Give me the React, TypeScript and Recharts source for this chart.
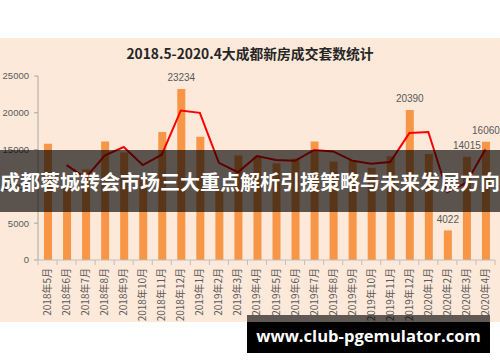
import React from 'react';
import { ComposedChart, Bar, Line, XAxis, YAxis, LabelList } from 'recharts';

const months = [
  '2018年5月', '2018年6月', '2018年7月', '2018年8月', '2018年9月', '2018年10月',
  '2018年11月', '2018年12月', '2019年1月', '2019年2月', '2019年3月', '2019年4月',
  '2019年5月', '2019年6月', '2019年7月', '2019年8月', '2019年9月', '2019年10月',
  '2019年11月', '2019年12月', '2020年1月', '2020年2月', '2020年3月', '2020年4月',
];

const salesUnits = [
  15800, 10000, 12300, 16100, 14600, 11200,
  17400, 23234, 16750, 9650, 14200, 14050,
  13150, 13800, 16100, 13400, 13600, 12550,
  14100, 20390, 14400, 4022, 14015, 16060,
];

const trendLine = [
  null, 12900, 11150, 14200, 15350, 12900,
  14300, 20317, 19992, 13200, 11925, 14125,
  13600, 13475, 14950, 14750, 13500, 13075,
  13325, 17245, 17395, 9211, 10500, 15038,
];

const yTicks = [0, 5000, 10000, 15000, 20000, 25000];

const labeledMonths = ['2018年12月', '2019年12月', '2020年2月', '2020年3月', '2020年4月'];

const titleText = '2018.5-2020.4大成都新房成交套数统计';
const bannerText = '成都蓉城转会市场三大重点解析引援策略与未来发展方向';
const siteText = 'www.club-pgemulator.com';

const data = months.map((m, i) => ({ month: m, units: salesUnits[i], trend: trendLine[i] }));

const XTick = (props: any) => {
  const { x, y, payload, index } = props;
  const off = payload && payload.offset ? payload.offset : 9.5;
  const axisY = y - 8;
  return (
    <g>
      <line x1={x - off} y1={axisY} x2={x - off} y2={axisY + 5} stroke="#bfbfbf" strokeWidth={1} />
      {index === months.length - 1 ? (
        <line x1={x + off} y1={axisY} x2={x + off} y2={axisY + 5} stroke="#bfbfbf" strokeWidth={1} />
      ) : null}
      <text
        x={x}
        y={y}
        dy="0.35em"
        textAnchor="end"
        transform={`rotate(-90 ${x} ${y})`}
        fontSize={10}
        fill="#595959"
        fontFamily="'Noto Sans CJK SC', sans-serif"
      >
        {payload.value}
      </text>
    </g>
  );
};

const BarLabel = (props: any) => {
  const { x, y, width, value, index } = props;
  if (!labeledMonths.includes(months[index])) return null;
  return (
    <text
      x={x + width / 2}
      y={y - 7.5}
      textAnchor="middle"
      fontSize={10}
      fill="#595959"
      fontFamily="'Liberation Sans', Arial, sans-serif"
    >
      {value}
    </text>
  );
};

export default function App() {
  return (
    <div style={{ position: 'absolute', left: 0, top: 0, width: 500, height: 362, background: '#ffffff', overflow: 'hidden' }}>
      <div style={{ position: 'absolute', left: 0, top: 38, width: 500, height: 284, background: '#fde9d9' }} />
      <div
        style={{
          position: 'absolute', left: 0, top: 43, width: 500, textAlign: 'center',
          fontFamily: "'Noto Sans CJK SC', sans-serif", fontWeight: 700, fontSize: 13.8,
          color: '#262626', lineHeight: '20px',
        }}
      >
        {titleText}
      </div>
      <div style={{ position: 'absolute', left: 0, top: 0 }}>
        <ComposedChart width={500} height={362} data={data} margin={{ top: 76, right: 5, bottom: 42, left: 0 }}>
          <XAxis
            dataKey="month"
            interval={0}
            height={60}
            tickLine={false}
            tickSize={5}
            tickMargin={3}
            axisLine={{ stroke: '#bfbfbf' }}
            tick={<XTick />}
          />
          <YAxis
            width={38}
            domain={[0, 25000]}
            ticks={yTicks}
            tickSize={4}
            tickMargin={5}
            axisLine={{ stroke: '#a6a6a6' }}
            tickLine={{ stroke: '#a6a6a6' }}
            tick={{ fontSize: 9.5, fill: '#595959', fontFamily: "'Liberation Sans', Arial, sans-serif" }}
          />
          <Bar dataKey="units" fill="#f79646" barSize={8} isAnimationActive={false}>
            <LabelList dataKey="units" content={<BarLabel />} />
          </Bar>
          <Line
            dataKey="trend"
            type="linear"
            stroke="#ff0000"
            strokeWidth={2}
            dot={false}
            activeDot={false}
            connectNulls={false}
            isAnimationActive={false}
          />
        </ComposedChart>
      </div>
      <div
        style={{
          position: 'absolute', left: 0, top: 150, width: 500, height: 62,
          background: 'rgba(0,0,0,0.64)', display: 'flex', alignItems: 'center', justifyContent: 'center',
        }}
      >
        <span
          style={{
            color: '#ffffff', fontFamily: "'Noto Sans CJK SC', sans-serif", fontWeight: 700,
            fontSize: 20, whiteSpace: 'nowrap', letterSpacing: 0,
          }}
        >
          {bannerText}
        </span>
      </div>
      <div style={{ position: 'absolute', left: 247, top: 315, width: 243, height: 7, background: 'rgba(0,0,0,0.62)' }} />
      <div
        style={{
          position: 'absolute', left: 247, top: 322, width: 243, height: 31, background: '#000000',
          display: 'flex', alignItems: 'center', justifyContent: 'center',
        }}
      >
        <span
          style={{
            color: '#ffffff', fontFamily: "'Open Sans', 'Liberation Sans', sans-serif", fontWeight: 700,
            fontSize: 16.6, whiteSpace: 'nowrap', marginTop: -4,
          }}
        >
          {siteText}
        </span>
      </div>
    </div>
  );
}
